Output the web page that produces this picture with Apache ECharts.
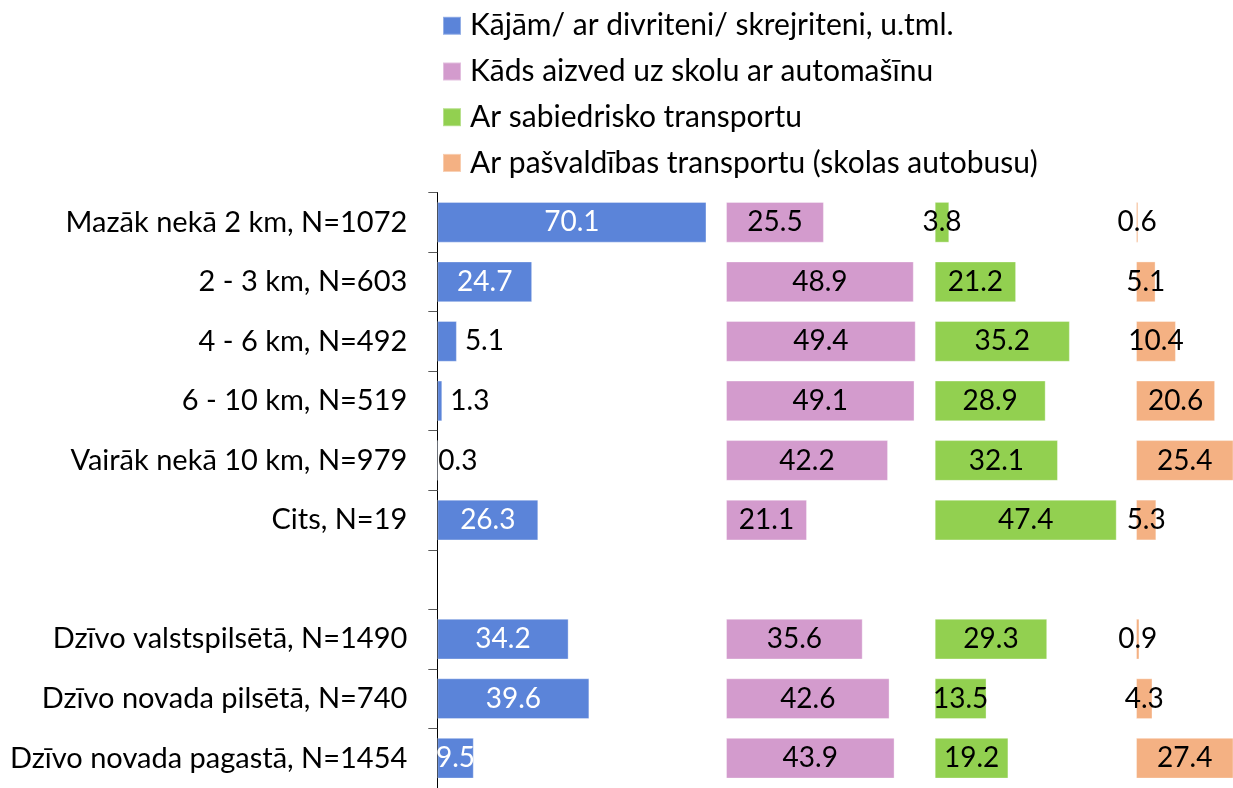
<!DOCTYPE html>
<html>
<head>
<meta charset="utf-8">
<script src="https://cdn.jsdelivr.net/npm/echarts@6/dist/echarts.min.js"></script>
<style>
html,body{margin:0;padding:0;background:#fff;}
#chart{width:1233px;height:788px;}
</style>
</head>
<body>
<div id="chart"></div>
<script>
// ---- data ----
const categories = [
  'Mazāk nekā 2 km, N=1072',
  '2 - 3 km, N=603',
  '4 - 6 km, N=492',
  '6 - 10 km, N=519',
  'Vairāk nekā 10 km, N=979',
  'Cits, N=19',
  '',
  'Dzīvo valstspilsētā, N=1490',
  'Dzīvo novada pilsētā, N=740',
  'Dzīvo novada pagastā, N=1454'
];
const seriesNames = [
  'Kājām/ ar divriteni/ skrejriteni, u.tml.',
  'Kāds aizved uz skolu ar automašīnu',
  'Ar sabiedrisko transportu',
  'Ar pašvaldības transportu (skolas autobusu)'
];
const walking         = [70.1, 24.7, 5.1, 1.3, 0.3, 26.3, null, 34.2, 39.6, 9.5];
const driven          = [25.5, 48.9, 49.4, 49.1, 42.2, 21.1, null, 35.6, 42.6, 43.9];
const publicTransport = [3.8, 21.2, 35.2, 28.9, 32.1, 47.4, null, 29.3, 13.5, 19.2];
const municipal       = [0.6, 5.1, 10.4, 20.6, 25.4, 5.3, null, 0.9, 4.3, 27.4];

// ---- layout / style ----
const FONT = 'Lato';
const colors = ['#5B84D9', '#D39BCD', '#92D050', '#F4B183'];
const K = 3.84;                       // pixels per percentage point
const panelLeft = [437.3, 726, 934.7, 1136];
const panelWidth = [75 * K, 54 * K, 52 * K, 1233 - 1136];
const gridTop = 192.5, gridHeight = 603.3;

const allValues = [walking, driven, publicTransport, municipal];

const grids = panelLeft.map((l, i) => ({
  left: l, top: gridTop, width: panelWidth[i], height: gridHeight, containLabel: false
}));
const xAxes = panelWidth.map((w, i) => ({
  type: 'value', gridIndex: i, min: 0, max: w / K, show: false
}));
const yAxes = panelLeft.map((l, i) => ({
  type: 'category', gridIndex: i, data: categories, inverse: true,
  show: i === 0,
  axisLine: { show: i === 0, lineStyle: { color: '#000', width: 1 } },
  axisTick: { show: i === 0, length: 9, lineStyle: { color: '#595959', width: 1 } },
  axisLabel: { show: i === 0, margin: 30, color: '#000', fontFamily: FONT, fontSize: 29 },
  splitLine: { show: false }
}));

const fmt = p => (p.value == null ? '' : Number(p.value).toFixed(1));

function blueItem(v) {
  if (v == null) return null;
  if (v < 1) return { value: v, label: { position: 'insideLeft', distance: 1, color: '#000' } };
  if (v < 6) return { value: v, label: { position: 'right', distance: 8, color: '#000' } };
  return { value: v };
}

const series = allValues.map((vals, i) => ({
  name: seriesNames[i],
  type: 'bar',
  xAxisIndex: i,
  yAxisIndex: i,
  barCategoryGap: '31.5%',
  clip: true,
  itemStyle: { color: colors[i], borderColor: 'rgba(255,255,255,0.35)', borderWidth: 1 },
  data: i === 0 ? vals.map(blueItem) : vals,
  label: {
    show: true,
    position: 'inside',
    formatter: fmt,
    color: i === 0 ? '#fff' : '#000',
    fontFamily: FONT,
    fontSize: 28,
    textBorderWidth: 0
  },
  emphasis: { disabled: true },
  animation: false
}));

const chart = echarts.init(document.getElementById('chart'), null, { renderer: 'canvas' });
chart.setOption({
  animation: false,
  textStyle: { fontFamily: FONT },
  legend: {
    orient: 'vertical',
    left: 442,
    top: 9.8,
    padding: 0,
    itemWidth: 18,
    itemHeight: 18,
    itemGap: 13.7,
    icon: 'rect',
    data: seriesNames,
    textStyle: { fontFamily: FONT, fontSize: 30, color: '#000', lineHeight: 32, padding: [0, 0, 0, 4] }
  },
  grid: grids,
  xAxis: xAxes,
  yAxis: yAxes,
  series: series
});
</script>
</body>
</html>
